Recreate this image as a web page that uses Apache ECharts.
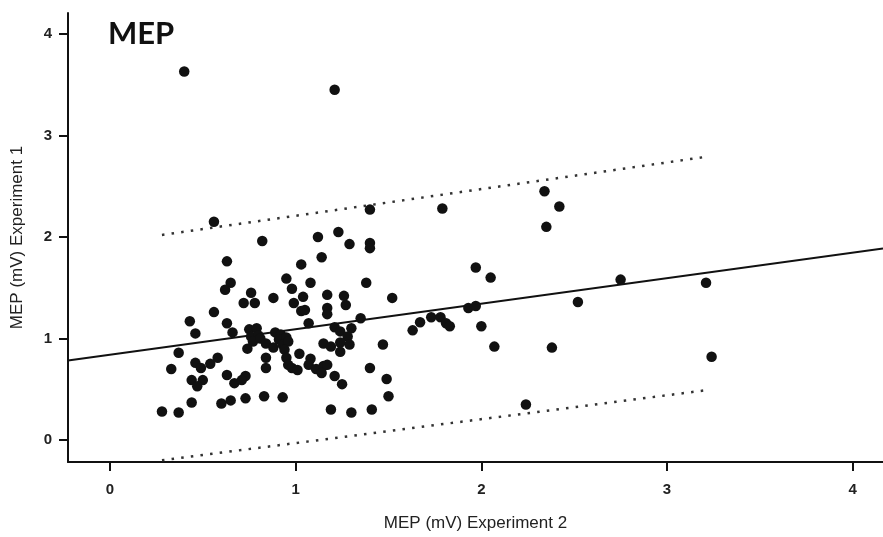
<!DOCTYPE html>
<html>
<head>
<meta charset="utf-8">
<script src="https://cdn.jsdelivr.net/npm/echarts@6/dist/echarts.min.js"></script>
<style>
  html, body { margin: 0; padding: 0; background: #fff; }
  #chart { width: 883px; height: 537px; }
</style>
</head>
<body>
<div id="chart"></div>
<script>
// MEP amplitude (mV) per subject: Experiment 2 (x) against Experiment 1 (y)
const mep2 = [
  0.40, 1.21, 0.56, 0.82, 1.40, 1.79, 1.12, 1.23, 1.29, 1.40,
  1.40, 1.14, 1.03, 0.63, 0.65, 0.62, 0.76, 0.72, 0.78, 0.88,
  0.95, 1.08, 1.38, 0.98, 1.04, 1.17, 1.26, 1.52, 0.99, 1.27,
  1.17, 1.17, 1.03, 1.05, 0.56, 0.43, 0.46, 0.63, 0.66, 1.07,
  1.35, 1.97, 2.05, 1.93, 1.97, 1.63, 1.67, 1.73, 1.78, 1.81,
  1.83, 2.00, 2.07, 2.24, 1.47, 1.40, 1.49, 1.50, 1.19, 1.30,
  1.41, 2.34, 2.42, 2.35, 2.75, 3.21, 2.52, 2.38, 3.24, 0.75,
  0.79, 0.76, 0.80, 0.77, 0.81, 0.84, 0.88, 0.84, 0.84, 0.89,
  0.92, 0.91, 0.95, 0.93, 0.96, 0.94, 0.95, 0.96, 0.98, 0.74,
  0.37, 0.33, 0.46, 0.49, 0.54, 0.58, 0.44, 0.50, 0.47, 0.63,
  0.67, 0.73, 0.71, 0.44, 0.60, 0.65, 0.73, 0.83, 0.93, 0.28,
  0.37, 1.02, 1.08, 1.07, 1.01, 1.11, 1.15, 1.17, 1.14, 1.21,
  1.25, 1.21, 1.24, 1.30, 1.28, 1.24, 1.29, 1.24, 1.15, 1.19
];
const mep1 = [
  3.63, 3.45, 2.15, 1.96, 2.27, 2.28, 2.00, 2.05, 1.93, 1.94,
  1.89, 1.80, 1.73, 1.76, 1.55, 1.48, 1.45, 1.35, 1.35, 1.40,
  1.59, 1.55, 1.55, 1.49, 1.41, 1.43, 1.42, 1.40, 1.35, 1.33,
  1.30, 1.24, 1.27, 1.28, 1.26, 1.17, 1.05, 1.15, 1.06, 1.15,
  1.20, 1.70, 1.60, 1.30, 1.32, 1.08, 1.16, 1.21, 1.21, 1.15,
  1.12, 1.12, 0.92, 0.35, 0.94, 0.71, 0.60, 0.43, 0.30, 0.27,
  0.30, 2.45, 2.30, 2.10, 1.58, 1.55, 1.36, 0.91, 0.82, 1.09,
  1.10, 1.02, 1.03, 0.97, 1.00, 0.95, 0.91, 0.81, 0.71, 1.06,
  1.04, 0.99, 1.01, 0.94, 0.97, 0.89, 0.81, 0.74, 0.71, 0.90,
  0.86, 0.70, 0.76, 0.71, 0.75, 0.81, 0.59, 0.59, 0.53, 0.64,
  0.56, 0.63, 0.59, 0.37, 0.36, 0.39, 0.41, 0.43, 0.42, 0.28,
  0.27, 0.85, 0.80, 0.74, 0.69, 0.70, 0.73, 0.74, 0.66, 0.63,
  0.55, 1.11, 1.07, 1.10, 1.02, 0.96, 0.94, 0.87, 0.95, 0.92
];

// Least-squares fit across the full axis span
const fitX = [-0.226, 4.163];
const fitY = [0.783, 1.886];

// Upper and lower prediction bounds
const bandX = [0.28, 3.21];
const upperY = [2.02, 2.79];
const lowerY = [-0.20, 0.49];

// Axis tick values
const xTicks = [0, 1, 2, 3, 4];
const yTicks = [0, 1, 2, 3, 4];

const points = mep2.map((x, i) => [x, mep1[i]]);
const pairs = (xs, ys) => xs.map((x, i) => [x, ys[i]]);

const ink = '#111';
const axisText = '#222';
const sans = 'Liberation Sans, Arial, sans-serif';

const chart = echarts.init(document.getElementById('chart'), null, { renderer: 'canvas' });

const axisCommon = {
  type: 'value',
  splitLine: { show: false },
  axisLine: { show: true, onZero: false, lineStyle: { color: ink, width: 2 } },
  axisTick: { show: true, length: 9, lineStyle: { color: ink, width: 2 } },
  nameLocation: 'middle',
  nameTextStyle: { color: axisText, fontFamily: sans, fontSize: 17 }
};

const tickLabel = (values, margin) => ({
  customValues: values,
  margin: margin,
  color: axisText,
  fontWeight: 'bold',
  fontSize: 15,
  fontFamily: sans
});

chart.setOption({
  animation: false,
  backgroundColor: '#fff',
  title: {
    text: 'MEP',
    left: 103,
    top: 13,
    textStyle: { fontFamily: 'Lato, sans-serif', fontWeight: 'bold', fontSize: 31, color: ink }
  },
  grid: { left: 68, top: 13, right: 0, bottom: 75, containLabel: false },
  xAxis: Object.assign({}, axisCommon, {
    min: -0.226,
    max: 4.163,
    name: 'MEP (mV) Experiment 2',
    nameGap: 53,
    axisTick: Object.assign({}, axisCommon.axisTick, { customValues: xTicks }),
    axisLabel: tickLabel(xTicks, 20)
  }),
  yAxis: Object.assign({}, axisCommon, {
    min: -0.217,
    max: 4.207,
    name: 'MEP (mV) Experiment 1',
    nameGap: 42,
    axisTick: Object.assign({}, axisCommon.axisTick, { customValues: yTicks }),
    axisLabel: tickLabel(yTicks, 16)
  }),
  series: [
    {
      type: 'line',
      data: pairs(fitX, fitY),
      symbol: 'none',
      lineStyle: { color: ink, width: 2 },
      z: 2
    },
    {
      type: 'line',
      data: pairs(bandX, upperY),
      symbol: 'none',
      lineStyle: { color: '#333', width: 2.5, type: [2.5, 7.2] },
      z: 2
    },
    {
      type: 'line',
      data: pairs(bandX, lowerY),
      symbol: 'none',
      lineStyle: { color: '#333', width: 2.5, type: [2.5, 7.2] },
      z: 2
    },
    {
      type: 'scatter',
      data: points,
      symbol: 'circle',
      symbolSize: 10.5,
      itemStyle: { color: ink, opacity: 1 },
      z: 3
    }
  ]
});
</script>
</body>
</html>
